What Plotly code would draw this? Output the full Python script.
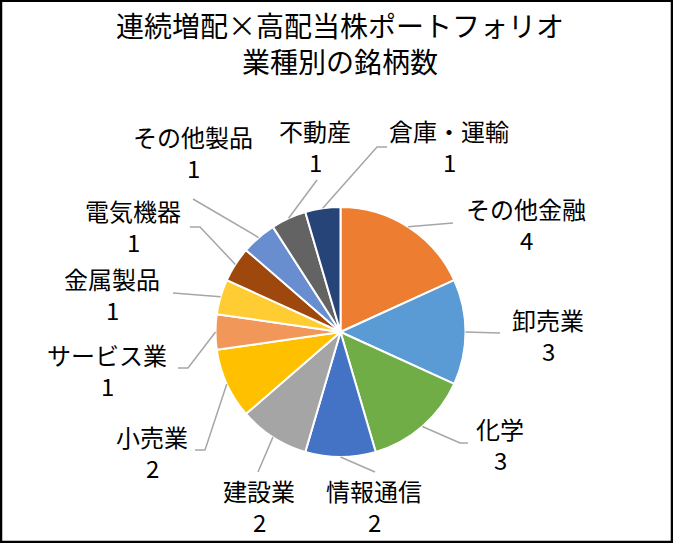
import math
import plotly.graph_objects as go

# ---- data ----
categories = ["その他金融", "卸売業", "化学", "情報通信", "建設業", "小売業",
              "サービス業", "金属製品", "電気機器", "その他製品", "不動産", "倉庫・運輸"]
counts = [4, 3, 3, 2, 2, 2, 1, 1, 1, 1, 1, 1]
colors = ["#ED7D31", "#5B9BD5", "#70AD47", "#4472C4", "#A5A5A5", "#FFC000",
          "#F1975A", "#FFCD33", "#9E480E", "#698ED0", "#636363", "#264478"]
title_lines = ["連続増配×高配当株ポートフォリオ", "業種別の銘柄数"]

# ---- layout (pixels) ----
W, H = 673, 543
CX, CY, R = 340.5, 332.0, 125.0
FONT = "Noto Sans CJK JP"

# label block centres (px) and leader-line waypoints (px)
label_pos = [(526, 224), (548, 335), (500, 444), (374, 506), (259, 506), (152, 452),
             (107, 370), (112, 294), (133, 226), (193, 152), (315, 146), (449, 146)]
leader_pts = [[(453, 223)], [(500, 333)], [(460, 443), (468, 443)], [(375, 472)],
              [(258, 472)], [(205, 450), (195, 450)], [(188, 368), (178, 368)],
              [(173, 293)], [(200, 227), (190, 227)], [(193, 199)], [(317, 180)],
              [(377, 147), (387, 147)]]


def px(x):
    return x / W


def py(y):
    return 1 - y / H


fig = go.Figure(go.Pie(
    labels=categories, values=counts, sort=False, direction="clockwise", rotation=0,
    marker=dict(colors=colors, line=dict(color="white", width=2)),
    textinfo="none", hole=0, showlegend=False,
    domain=dict(x=[px(CX - R), px(CX + R)], y=[py(CY + R), py(CY - R)]),
))


def text_ann(x, y, text, size):
    return dict(x=px(x), y=py(y), xref="paper", yref="paper", text=text,
                showarrow=False, align="center", xanchor="center", yanchor="middle",
                font=dict(family=FONT, size=size, color="black"))


total = sum(counts)
shapes = []
annotations = []
cum = 0
for i, (cat, v) in enumerate(zip(categories, counts)):
    mid = (cum + v / 2) / total * 2 * math.pi
    cum += v
    sx = CX + R * math.sin(mid)
    sy = CY - R * math.cos(mid)
    pts = [(sx, sy)] + leader_pts[i]
    path = "M " + " L ".join(f"{px(a):.5f},{py(b):.5f}" for a, b in pts)
    shapes.append(dict(type="path", xref="paper", yref="paper", path=path,
                       line=dict(color="#A6A6A6", width=1.5)))
    lx, ly = label_pos[i]
    annotations.append(text_ann(lx, ly - 15.5, cat, 24))
    annotations.append(text_ann(lx, ly + 15.5, str(v), 24))

annotations.append(text_ann(340, 25, title_lines[0], 28))
annotations.append(text_ann(340, 61, title_lines[1], 28))

shapes.append(dict(type="rect", xref="paper", yref="paper",
                   x0=px(1), y0=py(0.8), x1=px(672), y1=py(542),
                   line=dict(color="black", width=2.5)))

fig.update_layout(width=W, height=H, margin=dict(l=0, r=0, t=0, b=0),
                  paper_bgcolor="white", plot_bgcolor="white",
                  shapes=shapes, annotations=annotations)

fig.write_html("out.html")
